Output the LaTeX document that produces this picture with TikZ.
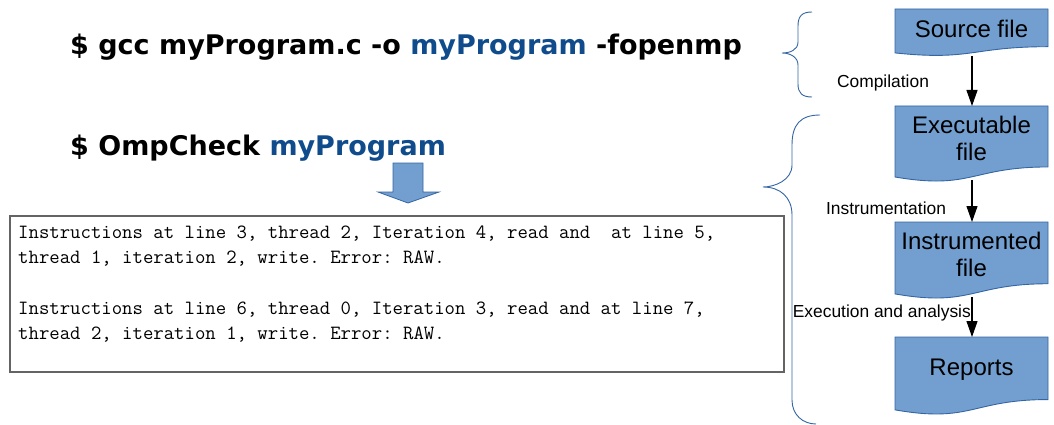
\documentclass[tikz,border=0pt]{standalone}
\usepackage{fontspec}
\setmainfont{Liberation Sans}
\newfontfamily\cmdfont{DejaVu Sans}
\usetikzlibrary{arrows.meta}
\definecolor{docfill}{HTML}{729FCF}
\definecolor{docline}{HTML}{3465A4}
\definecolor{cmdblue}{RGB}{16,76,140}
\definecolor{boxgray}{RGB}{100,100,100}
\tikzset{
  docstyle/.style={fill=docfill, draw=docline, line width=0.9pt},
  boxtext/.style={font=\fontsize{24}{27}\selectfont, align=center, inner sep=0pt},
  lbl/.style={font=\fontsize{17.4}{20}\selectfont, inner sep=0pt},
  flow/.style={line width=1.1pt, -{Triangle[width=11pt,length=16pt]}, shorten <=3pt},
  cmd/.style={font=\cmdfont\bfseries\fontsize{27}{30}\selectfont, anchor=base west, inner sep=0pt},
  mono/.style={font=\ttfamily\fontsize{20.2}{22}\selectfont\frenchspacing, anchor=base west, inner sep=0pt},
  bracestyle/.style={draw=docline, line width=0.9pt},
}
% name, left, top, right, height, text y, text
\newcommand{\docbox}[7]{%
  \draw[docstyle] (#2,#3) -- (#4,#3) -- (#4,{#3+0.802*#5})
    .. controls ({(#2+#4)/2},{#3+0.802*#5}) and ({(#2+#4)/2},{#3+1.107*#5}) .. (#2,{#3+0.934*#5}) -- cycle;
  \coordinate (#1-top) at (972,#3);
  \coordinate (#1-bot) at (972,{#3+0.933*#5});
  \node[boxtext] (#1) at ({(#2+#4)/2},#6) {#7};
}
\begin{document}
\frenchspacing
\begin{tikzpicture}[x=1pt,y=-1pt]
\useasboundingbox (0,0) rectangle (1054,425);

% commands
\node[cmd] (cmd1) at (70,55) {\$ gcc myProgram.c -o \textcolor{cmdblue}{myProgram} -fopenmp};
\node[cmd] (cmd2) at (70,155) {\$ OmpCheck \textcolor{cmdblue}{myProgram}};

% block arrow
\draw[fill=docfill, draw=docline, line width=0.8pt] (393,163) -- (423,163) -- (423,192) -- (439,192) -- (408,203) -- (378,192) -- (393,192) -- cycle;

% output box
\node[draw=boxgray, line width=1.6pt, minimum width=774pt, minimum height=156pt, inner sep=0pt] (outbox) at (397,294) {};
\node[mono] (l1) at (18,238) {Instructions at line 3, thread 2, Iteration 4, read and\ \ at line 5,};
\node[mono] (l2) at (18,263) {thread 1, iteration 2, write. Error: RAW.};
\node[mono] (l3) at (18,314) {Instructions at line 6, thread 0, Iteration 3, read and at line 7,};
\node[mono] (l4) at (18,339) {thread 2, iteration 1, write. Error: RAW.};

% braces
\draw[bracestyle] (812,12) .. controls (802,12) and (798,16) .. (798,26) -- (798,42)
  .. controls (798,50) and (790,53) .. (782,53)
  .. controls (790,53) and (798,57) .. (798,65) -- (798,84)
  .. controls (798,93) and (802,97) .. (812,97);
\draw[bracestyle] (820,115) .. controls (800,115) and (792,125) .. (792,145) -- (792,165)
  .. controls (792,180) and (775,187) .. (763,187)
  .. controls (780,187) and (792,197) .. (792,215) -- (792,400)
  .. controls (792,415) and (803,424) .. (816,424);

% documents
\docbox{src}{895}{9}{1048}{47}{29}{Source file}
\docbox{exe}{895}{106}{1048}{76}{138.5}{Executable\\file}
\docbox{ins}{895}{222}{1048}{77}{254.5}{Instrumented\\file}
\docbox{rep}{895}{337}{1048}{78}{370}{Reports}

% flow arrows
\draw[flow] (src-bot) -- (exe-top);
\draw[flow] (exe-bot) -- (ins-top);
\draw[flow] (ins-bot) -- (rep-top);

% labels
\node[lbl] (lcomp) at (883,83) {Compilation};
\node[lbl] (linst) at (886,208) {Instrumentation};
\node[lbl, anchor=east] (lexec) at (971,313) {Execution and analysis};
\end{tikzpicture}
\end{document}
